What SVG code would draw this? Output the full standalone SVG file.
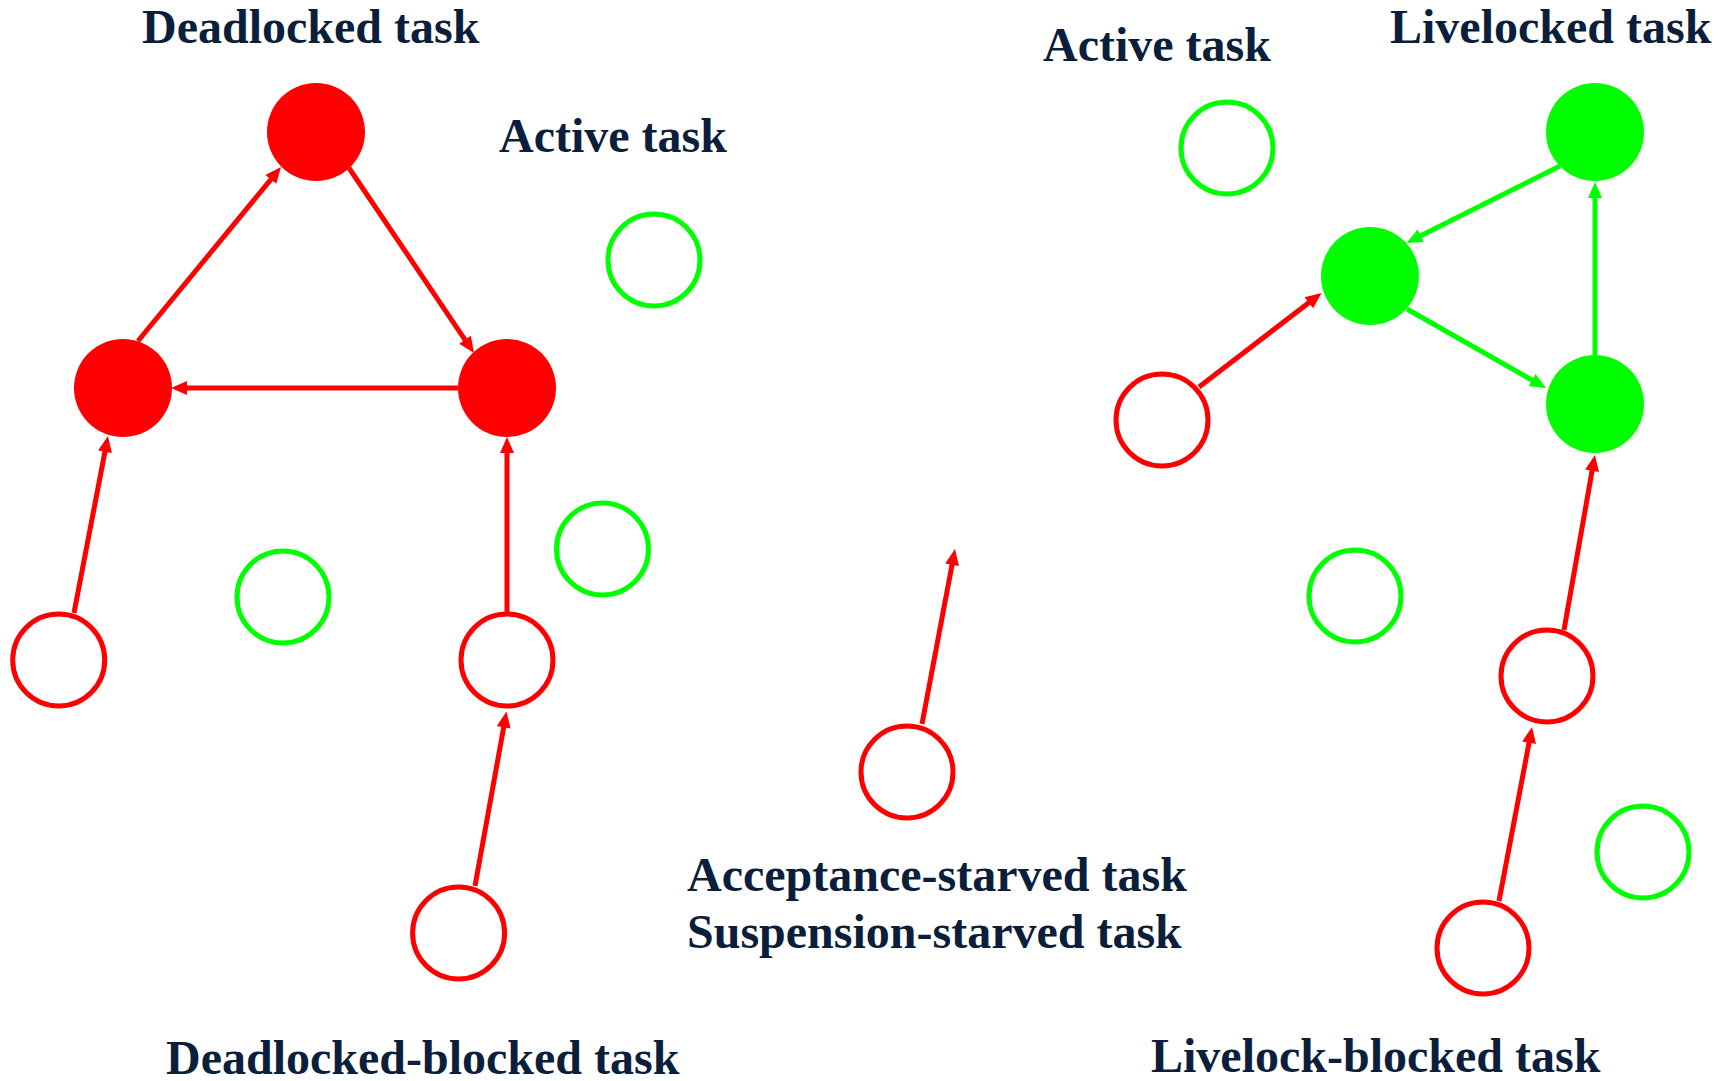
<svg xmlns="http://www.w3.org/2000/svg" width="1719" height="1081" viewBox="0 0 1719 1081">
<style>
.lbl{font-family:"Liberation Serif","Times New Roman",serif;font-weight:bold;font-size:48px;fill:#0b1e3b}
.rf{fill:#ff0000;stroke:none}
.gf{fill:#00ff00;stroke:none}
.ro{fill:none;stroke:#ff0000;stroke-width:5}
.go{fill:none;stroke:#00ff00;stroke-width:5}
.re{stroke:#ff0000;stroke-width:5;fill:none;marker-end:url(#ar)}
.ge{stroke:#00ff00;stroke-width:5;fill:none;marker-end:url(#ag)}
</style>
<defs>
<marker id="ar" markerUnits="userSpaceOnUse" markerWidth="16" markerHeight="14" refX="4" refY="7" orient="auto" overflow="visible"><path d="M0,0 L16,7 L0,14 z" fill="#ff0000"/></marker>
<marker id="ag" markerUnits="userSpaceOnUse" markerWidth="16" markerHeight="14" refX="4" refY="7" orient="auto" overflow="visible"><path d="M0,0 L16,7 L0,14 z" fill="#00ff00"/></marker>
</defs>
<rect width="1719" height="1081" fill="#ffffff"/>
<g id="labels">
<text class="lbl" x="142" y="43">Deadlocked task</text>
<text class="lbl" x="499" y="152">Active task</text>
<text class="lbl" x="1043" y="61">Active task</text>
<text class="lbl" x="1390" y="43">Livelocked task</text>
<text class="lbl" x="687" y="891">Acceptance-starved task</text>
<text class="lbl" x="687" y="948">Suspension-starved task</text>
<text class="lbl" x="166" y="1074">Deadlocked-blocked task</text>
<text class="lbl" x="1151" y="1072">Livelock-blocked task</text>
</g>
<g id="connectors">
<line class="re" x1="138" y1="341" x2="273.4" y2="176.3"/>
<line class="re" x1="349" y1="168" x2="467.3" y2="343.1"/>
<line class="re" x1="458" y1="388" x2="183" y2="388"/>
<line class="re" x1="74" y1="613" x2="105.7" y2="447.8"/>
<line class="re" x1="507" y1="612" x2="507" y2="449"/>
<line class="re" x1="475" y1="886" x2="504.4" y2="723.4"/>
<line class="ge" x1="1560" y1="166" x2="1417.2" y2="237.6"/>
<line class="ge" x1="1407" y1="309" x2="1535.6" y2="382.1"/>
<line class="ge" x1="1595" y1="355" x2="1595" y2="194"/>
<line class="re" x1="1199" y1="387" x2="1312" y2="300.3"/>
<line class="re" x1="1564" y1="630" x2="1592.8" y2="466.8"/>
<line class="re" x1="1499" y1="901" x2="1529.8" y2="738.8"/>
<line class="re" x1="922" y1="724" x2="952.8" y2="560.8"/>
</g>
<g id="dl-top"><circle class="rf" cx="316" cy="132" r="49"/></g>
<g id="dl-left"><circle class="rf" cx="123" cy="388" r="49"/></g>
<g id="dl-right"><circle class="rf" cx="507" cy="388" r="49"/></g>
<g id="active-1"><circle class="go" cx="654" cy="260" r="46"/></g>
<g id="active-2"><circle class="go" cx="283" cy="597" r="46"/></g>
<g id="active-3"><circle class="go" cx="602.5" cy="549" r="46"/></g>
<g id="blocked-1"><circle class="ro" cx="58.7" cy="660" r="46"/></g>
<g id="blocked-2"><circle class="ro" cx="507" cy="660" r="46"/></g>
<g id="blocked-3"><circle class="ro" cx="458.6" cy="933" r="46"/></g>
<g id="starved"><circle class="ro" cx="907" cy="772" r="46"/></g>
<g id="active-4"><circle class="go" cx="1227" cy="148" r="46"/></g>
<g id="ll-top"><circle class="gf" cx="1595" cy="132" r="49"/></g>
<g id="ll-mid"><circle class="gf" cx="1370" cy="276" r="49"/></g>
<g id="ll-bottom"><circle class="gf" cx="1595" cy="404" r="49"/></g>
<g id="lb-1"><circle class="ro" cx="1162" cy="420" r="46"/></g>
<g id="active-5"><circle class="go" cx="1355" cy="596" r="46"/></g>
<g id="lb-2"><circle class="ro" cx="1547" cy="676" r="46"/></g>
<g id="active-6"><circle class="go" cx="1643" cy="852" r="46"/></g>
<g id="lb-3"><circle class="ro" cx="1483" cy="948" r="46"/></g>
</svg>
